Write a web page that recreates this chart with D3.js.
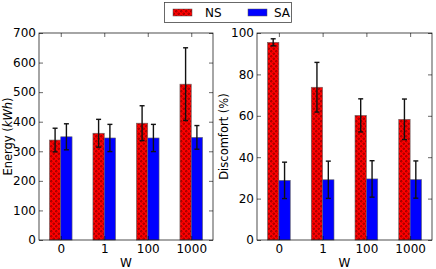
<!DOCTYPE html>
<html>
<head>
<meta charset="utf-8">
<script src="https://cdn.jsdelivr.net/npm/d3@7"></script>
<style>
  body { margin: 0; background: #fff; }
  text { font-family: "DejaVu Sans", sans-serif; }
</style>
</head>
<body>
<div class="chart"></div>
<script>
// values
const categories = ["0", "1", "100", "1000"];
const seriesNames = ["NS", "SA"];

const energyNS = [338, 361, 395, 527];
const energyNSErr = [40, 47, 59, 123];
const energySA = [349, 345, 345, 347];
const energySAErr = [44, 46, 46, 40];

const discNS = [95.5, 73.8, 60.2, 58.3];
const discNSErr = [1.7, 12, 8, 9.8];
const discSA = [28.8, 29.1, 29.5, 29.2];
const discSAErr = [8.8, 9, 8.8, 9];

const energyTicks = [0, 100, 200, 300, 400, 500, 600, 700];
const discTicks = [0, 20, 40, 60, 80, 100];

const w = 436, h = 269;

const svg = d3.select(".chart")
  .append("svg")
  .attr("width", w)
  .attr("height", h);

// dotted hatch for NS bars
const pat = svg.append("defs").append("pattern")
  .attr("id", "dots")
  .attr("patternUnits", "userSpaceOnUse")
  .attr("width", 5)
  .attr("height", 5);
pat.append("rect").attr("width", 5).attr("height", 5).attr("fill", "#ff0000");
pat.append("circle").attr("cx", 1.25).attr("cy", 1.25).attr("r", 0.8)
  .attr("fill", "none").attr("stroke", "#300").attr("stroke-width", 0.5);
pat.append("circle").attr("cx", 3.75).attr("cy", 3.75).attr("r", 0.8)
  .attr("fill", "none").attr("stroke", "#300").attr("stroke-width", 0.5);

function panel(box, yMax, yTicks, ns, nsErr, sa, saErr, ylabel) {
  const x = d3.scalePoint()
    .domain(categories)
    .range([box.x0, box.x1])
    .padding(0.5);
  const y = d3.scaleLinear()
    .domain([0, yMax])
    .range([box.y1, box.y0]);
  const bw = x.step() * 0.26;

  const g = svg.append("g");

  const rows = categories.map(function (c, i) {
    return [
      { c: c, v: ns[i], e: nsErr[i], dx: -bw, fill: "url(#dots)" },
      { c: c, v: sa[i], e: saErr[i], dx: 0, fill: "#0000ff" }
    ];
  }).flat();

  g.selectAll("rect.bar")
    .data(rows)
    .enter()
    .append("rect")
    .attr("class", "bar")
    .attr("x", function (d) { return x(d.c) + d.dx; })
    .attr("y", function (d) { return y(d.v); })
    .attr("width", bw)
    .attr("height", function (d) { return y(0) - y(d.v); })
    .attr("fill", function (d) { return d.fill; })
    .attr("stroke", "#666")
    .attr("stroke-width", 0.6);

  // error bars
  const eb = g.selectAll("g.err")
    .data(rows)
    .enter()
    .append("g")
    .attr("class", "err")
    .attr("stroke", "#111")
    .attr("stroke-width", 1.4);
  eb.append("line")
    .attr("x1", function (d) { return x(d.c) + d.dx + bw / 2; })
    .attr("x2", function (d) { return x(d.c) + d.dx + bw / 2; })
    .attr("y1", function (d) { return y(d.v - d.e); })
    .attr("y2", function (d) { return y(d.v + d.e); });
  [-1, 1].forEach(function (s) {
    eb.append("line")
      .attr("x1", function (d) { return x(d.c) + d.dx + bw / 2 - 2.5; })
      .attr("x2", function (d) { return x(d.c) + d.dx + bw / 2 + 2.5; })
      .attr("y1", function (d) { return y(d.v + s * d.e); })
      .attr("y2", function (d) { return y(d.v + s * d.e); });
  });

  // axes, ticks pointing inward on every side
  const left = g.append("g")
    .attr("transform", "translate(" + box.x0 + ",0)")
    .call(d3.axisLeft(y).tickValues(yTicks).tickSize(-4).tickPadding(3));
  const right = g.append("g")
    .attr("transform", "translate(" + box.x1 + ",0)")
    .call(d3.axisRight(y).tickValues(yTicks).tickSize(-4).tickFormat(""));
  const bottom = g.append("g")
    .attr("transform", "translate(0," + box.y1 + ")")
    .call(d3.axisBottom(x).tickSize(-4).tickPadding(4));
  const top = g.append("g")
    .attr("transform", "translate(0," + box.y0 + ")")
    .call(d3.axisTop(x).tickSize(-4).tickFormat(""));

  [left, right, bottom, top].forEach(function (a) {
    a.select(".domain").remove();
    a.selectAll("line").attr("stroke", "#000").attr("stroke-width", 0.6);
    a.selectAll("text")
      .attr("fill", "#000")
      .style("font-family", "DejaVu Sans, sans-serif")
      .style("font-size", "12px");
  });

  g.append("rect")
    .attr("x", box.x0)
    .attr("y", box.y0)
    .attr("width", box.x1 - box.x0)
    .attr("height", box.y1 - box.y0)
    .attr("fill", "none")
    .attr("stroke", "#000")
    .attr("stroke-width", 0.7);

  g.append("text")
    .attr("x", (box.x0 + box.x1) / 2)
    .attr("y", 267)
    .attr("text-anchor", "middle")
    .attr("font-size", 12)
    .text("W");

  const yl = g.append("text")
    .attr("transform", "translate(" + box.lx + "," + (box.y0 + box.y1) / 2 + ") rotate(-90)")
    .attr("text-anchor", "middle")
    .attr("font-size", 11.5);
  ylabel(yl);
}

panel({ x0: 39, x1: 213, y0: 33, y1: 240, lx: 12 }, 700, energyTicks,
  energyNS, energyNSErr, energySA, energySAErr,
  function (t) {
    t.append("tspan").text("Energy (");
    t.append("tspan").attr("font-style", "italic").text("kWh");
    t.append("tspan").text(")");
  });

panel({ x0: 257, x1: 432, y0: 33, y1: 240, lx: 228 }, 100, discTicks,
  discNS, discNSErr, discSA, discSAErr,
  function (t) { t.text("Discomfort (%)"); });

// legend
const legend = svg.append("g");
legend.append("rect")
  .attr("x", 164.5)
  .attr("y", 2.5)
  .attr("width", 127)
  .attr("height", 20)
  .attr("fill", "#fff")
  .attr("stroke", "#444")
  .attr("stroke-width", 0.8);

const legendFills = ["url(#dots)", "#0000ff"];
const legendX = d3.scalePoint().domain(seriesNames).range([173, 248]);
const legendTextX = d3.scalePoint().domain(seriesNames).range([205, 274]);

legend.selectAll("rect.sw")
  .data(seriesNames)
  .enter()
  .append("rect")
  .attr("class", "sw")
  .attr("x", function (d) { return legendX(d); })
  .attr("y", 9)
  .attr("width", 19)
  .attr("height", 7)
  .attr("fill", function (d, i) { return legendFills[i]; })
  .attr("stroke", "#555")
  .attr("stroke-width", 0.5);

legend.selectAll("text")
  .data(seriesNames)
  .enter()
  .append("text")
  .attr("x", function (d) { return legendTextX(d); })
  .attr("y", 17)
  .attr("font-size", 12)
  .text(function (d) { return d; });
</script>
</body>
</html>
